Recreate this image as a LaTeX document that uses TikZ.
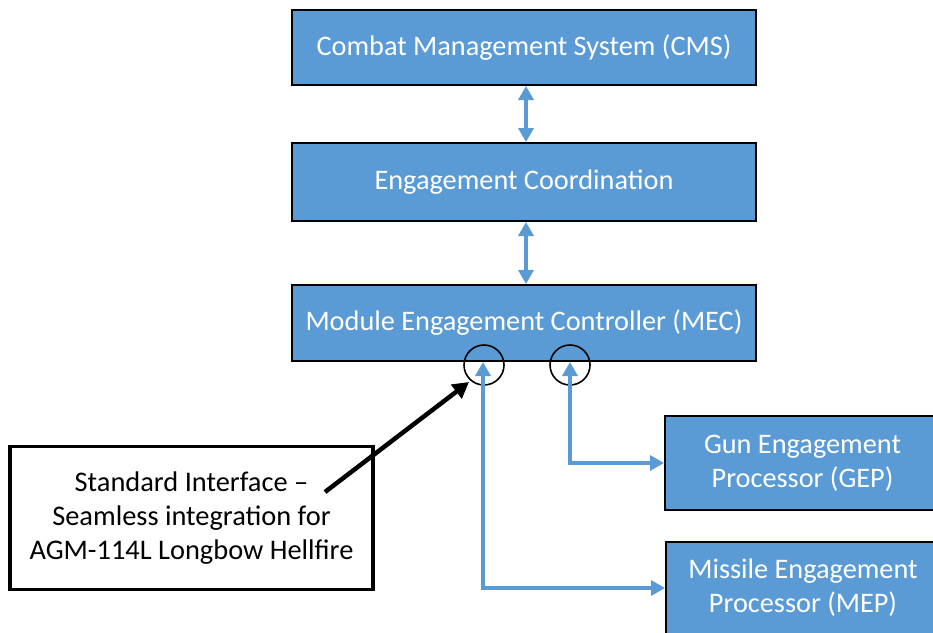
\documentclass[tikz,border=0pt]{standalone}
\usepackage{fontspec}
\setmainfont{Carlito}
\usetikzlibrary{arrows.meta}
\definecolor{boxblue}{HTML}{5B9BD5}
\tikzset{
  bluebox/.style={draw=black, line width=2pt, fill=boxblue, text=white, align=center,
    inner sep=0pt, font=\fontsize{28.3}{34}\selectfont},
  notebox/.style={draw=black, line width=3.5pt, fill=white, text=black, align=center,
    inner sep=0pt, font=\fontsize{28.4}{34}\selectfont},
  blink/.style={draw=boxblue, line width=4pt, {Triangle[length=14pt,width=15pt]}-{Triangle[length=14pt,width=15pt]}},
  ring/.style={circle, draw=black, line width=1.6pt, minimum size=40pt, inner sep=0pt},
  callout/.style={draw=black, line width=4.5pt, -{Triangle[length=16pt,width=17pt]}}
}
\begin{document}
\begin{tikzpicture}[x=1pt,y=-1pt]
\useasboundingbox (0,0) rectangle (933,632);
\begin{scope}
\clip (0,0) rectangle (933,632);
\node[bluebox, minimum width=464pt, minimum height=75pt] (cms) at (524,47.5) {Combat Management System (CMS)};
\node[bluebox, minimum width=464pt, minimum height=78pt] (ec) at (524,182) {Engagement Coordination};
\node[bluebox, minimum width=464pt, minimum height=76pt] (mec) at (524,323) {Module Engagement Controller (MEC)};
\node[bluebox, minimum width=275pt, minimum height=94pt] (gep) at (802.5,463) {Gun Engagement\\Processor (GEP)};
\node[bluebox, minimum width=274pt, minimum height=92pt] (mep) at (803,588) {Missile Engagement\\Processor (MEP)};
\node[notebox, minimum width=363pt, minimum height=143pt] (std) at (191.5,518) {Standard Interface --\\Seamless integration for\\AGM-114L Longbow Hellfire};
\node[ring] (c1) at (484,365) {};
\node[ring] (c2) at (570,365) {};
\draw[blink] ([xshift=2pt]cms.south) -- ([xshift=2pt]ec.north);
\draw[blink] ([xshift=2pt]ec.south) -- ([xshift=2pt]mec.north);
\draw[blink] ([xshift=-1pt]c1.center |- mec.south) |- (mep.west);
\draw[blink] (c2.center |- mec.south) |- (gep.west);
\coordinate (cs) at (325,492);
\coordinate (ce) at (469,382);
\draw[callout] (cs) -- (ce);
\end{scope}
\end{tikzpicture}
\end{document}
